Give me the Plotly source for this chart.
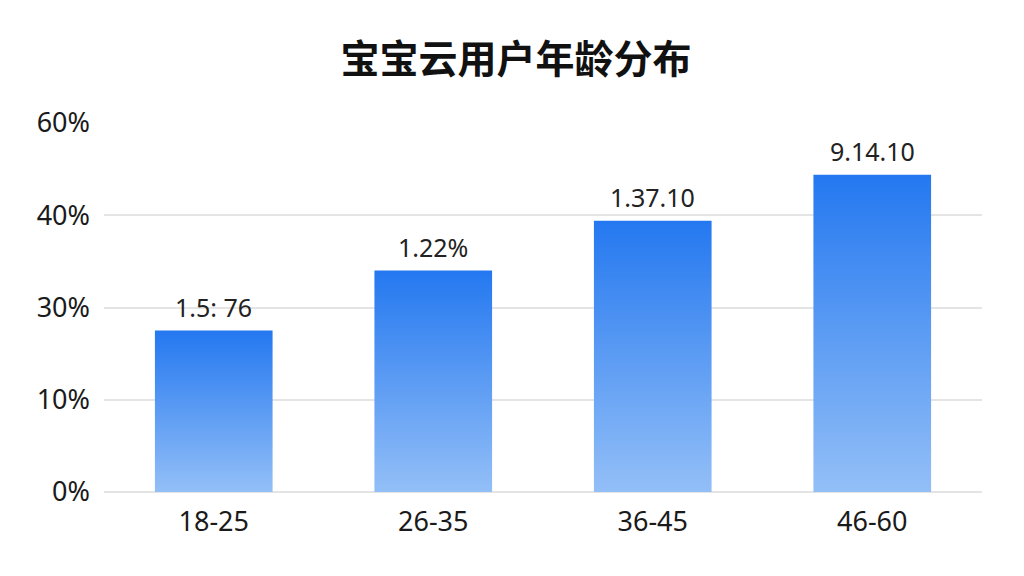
import plotly.graph_objects as go

# 年龄段和占比（按图中刻度读出的位置）
categories = ['18-25', '26-35', '36-45', '46-60']
values = [17.5, 24.0, 29.4, 34.4]
bar_labels = ['1.5: 76', '1.22%', '1.37.10', '9.14.10']
tick_vals = [0, 10, 20, 30, 40]
tick_text = ['0%', '10%', '30%', '40%', '60%']

bar_half = 0.268
fig = go.Figure()

# 每个柱子单独一个trace，这样渐变从底到顶各自完整
for i, v in enumerate(values):
    fig.add_trace(go.Scatter(
        x=[i - bar_half, i + bar_half, i + bar_half, i - bar_half, i - bar_half],
        y=[0, 0, v, v, 0],
        mode='lines',
        line=dict(width=0),
        fill='toself',
        fillgradient=dict(type='vertical',
                          colorscale=[[0, '#93bff7'], [1, '#2478f0']]),
        hoverinfo='skip',
        showlegend=False,
    ))

# 柱顶数值标签
for i, (v, t) in enumerate(zip(values, bar_labels)):
    fig.add_annotation(x=i, y=v, text=t, showarrow=False,
                       yanchor='bottom', yshift=5,
                       font=dict(size=25, color='#222222',
                                 family='Noto Sans, Noto Sans CJK SC'))

# 页面body有8px边距，所以宽高各减8
fig.update_layout(
    width=1016, height=568,
    paper_bgcolor='white', plot_bgcolor='white',
    margin=dict(l=96, r=42, t=115, b=84),
    title=dict(text='<b>宝宝云用户年龄分布</b>', x=0.5, xanchor='center',
               y=1 - 51 / 568, yanchor='middle', yref='container',
               font=dict(size=39, color='#111111', family='Noto Sans CJK SC')),
    font=dict(family='Noto Sans, Noto Sans CJK SC', color='#1a1a1a'),
)
fig.update_xaxes(
    range=[-0.5, 3.5], tickvals=list(range(len(categories))), ticktext=categories,
    showgrid=False, zeroline=False, showline=False, ticks='',
    tickfont=dict(size=27), ticklabelstandoff=11,
)
fig.update_yaxes(
    range=[0, 40], tickvals=tick_vals, ticktext=tick_text,
    showgrid=True, gridcolor='#e4e4e4', gridwidth=1.5,
    zeroline=True, zerolinecolor='#e4e4e4', zerolinewidth=1.5,
    showline=False, ticks='', tickfont=dict(size=27), ticklabelstandoff=13,
)

fig.write_html('out.html')
